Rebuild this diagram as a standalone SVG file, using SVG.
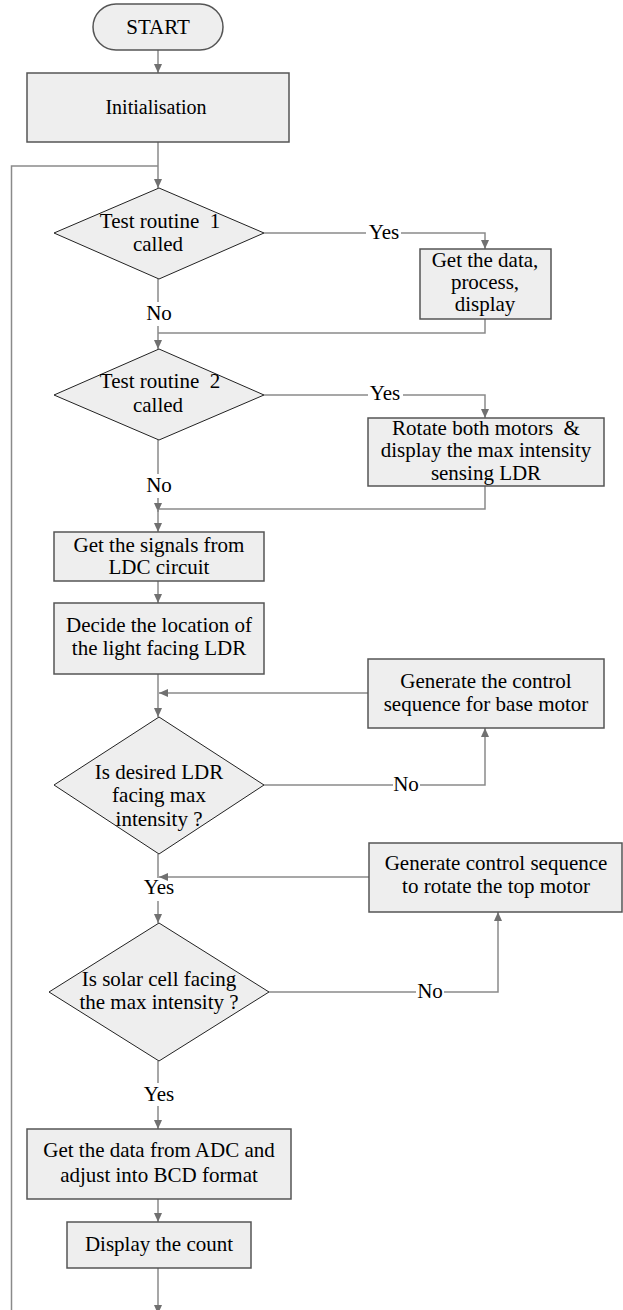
<svg xmlns="http://www.w3.org/2000/svg" width="623" height="1310" viewBox="0 0 623 1310">
<style>
.box{fill:#eeeeee;stroke:#555555;stroke-width:1.5}
.dia{fill:#eeeeee;stroke:#222222;stroke-width:1}
text{font-family:'Liberation Serif','Times New Roman',serif;font-size:21px;fill:#000000;text-anchor:middle}
.sp{white-space:pre}
.c{fill:none;stroke:#8a8a8a;stroke-width:1.5}
.a{fill:none;stroke:#8a8a8a;stroke-width:1.5;marker-end:url(#ah)}
</style>
<defs>
<marker id="ah" viewBox="0 0 9 8" markerWidth="9" markerHeight="8" refX="9" refY="4" orient="auto" markerUnits="userSpaceOnUse">
<path d="M0,0 L9,4 L0,8 z" fill="#707070"/>
</marker>
</defs>
<rect width="623" height="1310" fill="#ffffff"/>
<g id="connectors">
<path class="a" d="M158,50 V73"/>
<path class="a" d="M158,142 V188"/>
<path class="c" d="M158,166 H11.5 V1310"/>
<path class="c" d="M264,233 H366"/>
<path class="a" d="M401,233 H485 V249"/>
<path class="c" d="M485,319 V333 H158"/>
<path class="c" d="M158,279 V302"/>
<path class="a" d="M158,326 V349"/>
<path class="c" d="M264,395 H368"/>
<path class="a" d="M403,395 H485 V418"/>
<path class="c" d="M485,486 V509 H158"/>
<path class="c" d="M158,440 V474"/>
<path class="a" d="M158,498 V512"/>
<path class="a" d="M158,509 V532"/>
<path class="a" d="M158,581 V603"/>
<path class="a" d="M158,674 V717"/>
<path class="a" d="M368,693 H159"/>
<path class="c" d="M264,785 H393"/>
<path class="a" d="M420,785 H485 V728"/>
<path class="c" d="M158,854 V878"/>
<path class="a" d="M369,877 H159"/>
<path class="a" d="M158,901 V923"/>
<path class="c" d="M269,992 H416"/>
<path class="a" d="M444,992 H498 V912"/>
<path class="c" d="M158,1061 V1083"/>
<path class="a" d="M158,1106 V1129"/>
<path class="a" d="M158,1199 V1222"/>
<path class="a" d="M158,1268 V1314"/>
</g>
<g id="labels">
<text x="384" y="239">Yes</text>
<text x="385" y="400">Yes</text>
<text x="159" y="320">No</text>
<text x="159" y="492">No</text>
<text x="406" y="791">No</text>
<text x="430" y="998">No</text>
<text x="159" y="894">Yes</text>
<text x="159" y="1101">Yes</text>
</g>
<g id="start">
<rect class="box" x="93" y="4" width="130" height="46" rx="23" ry="23"/>
<text x="158" y="34">START</text>
</g>
<g id="init">
<rect class="box" x="27" y="73" width="262" height="69"/>
<text x="156" y="114" style="font-size:20px">Initialisation</text>
</g>
<g id="test1">
<polygon class="dia" points="159,188 264,233 159,279 54,233"/>
<text class="sp" x="160" y="228">Test routine  1</text>
<text x="158" y="251">called</text>
</g>
<g id="proc1">
<rect class="box" x="420" y="249" width="131" height="70"/>
<text x="485" y="267">Get the data,</text>
<text x="485" y="289">process,</text>
<text x="485" y="311">display</text>
</g>
<g id="test2">
<polygon class="dia" points="159,349 264,395 159,440 54,395"/>
<text class="sp" x="160" y="388">Test routine  2</text>
<text x="158" y="412">called</text>
</g>
<g id="proc2">
<rect class="box" x="368" y="418" width="236" height="68"/>
<text class="sp" x="486" y="435">Rotate both motors  &amp;</text>
<text x="486" y="457">display the max intensity</text>
<text x="486" y="480">sensing LDR</text>
</g>
<g id="signals">
<rect class="box" x="54" y="532" width="210" height="49"/>
<text x="159" y="552">Get the signals from</text>
<text x="159" y="574">LDC circuit</text>
</g>
<g id="decide">
<rect class="box" x="54" y="603" width="210" height="71"/>
<text x="159" y="632">Decide the location of</text>
<text x="159" y="655">the light facing LDR</text>
</g>
<g id="basemotor">
<rect class="box" x="368" y="659" width="236" height="69"/>
<text x="486" y="688">Generate the control</text>
<text x="486" y="711">sequence for base motor</text>
</g>
<g id="ldrcheck">
<polygon class="dia" points="159,717 264,785 159,854 54,785"/>
<text x="159" y="779">Is desired LDR</text>
<text x="159" y="802">facing max</text>
<text x="159" y="826">intensity ?</text>
</g>
<g id="topmotor">
<rect class="box" x="369" y="843" width="253" height="69"/>
<text x="496" y="870">Generate control sequence</text>
<text x="496" y="893">to rotate the top motor</text>
</g>
<g id="solarcheck">
<polygon class="dia" points="159,923 269,992 159,1061 49,992"/>
<text x="159" y="986">Is solar cell facing</text>
<text x="159" y="1009">the max intensity ?</text>
</g>
<g id="adc">
<rect class="box" x="27" y="1129" width="264" height="70"/>
<text x="159" y="1157">Get the data from ADC and</text>
<text x="159" y="1182">adjust into BCD format</text>
</g>
<g id="count">
<rect class="box" x="67" y="1222" width="184" height="46"/>
<text x="159" y="1251">Display the count</text>
</g>
</svg>
